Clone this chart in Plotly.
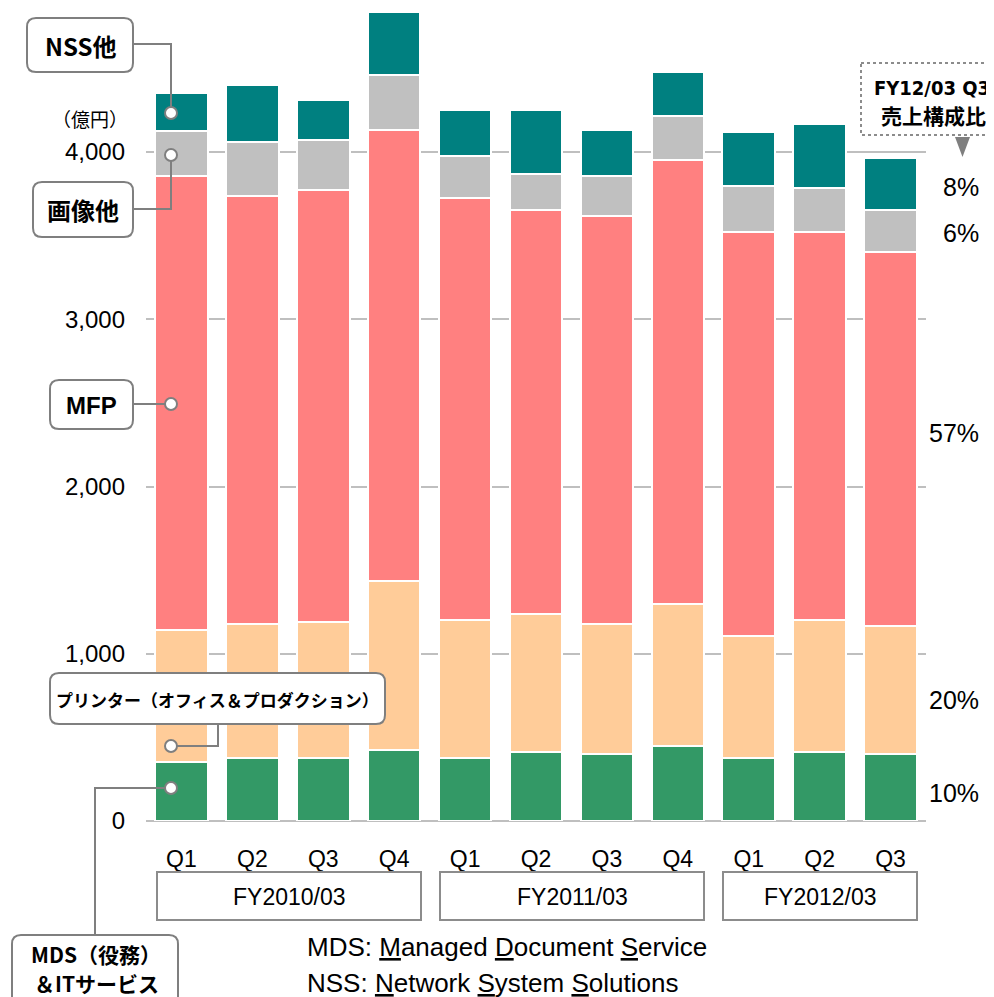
import plotly.graph_objects as go

# quarterly sales by segment (100M yen)
quarters = ["Q1", "Q2", "Q3", "Q4", "Q1", "Q2", "Q3", "Q4", "Q1", "Q2", "Q3"]
fiscal_years = ["FY2010/03", "FY2011/03", "FY2012/03"]
mds = [353, 377, 377, 425, 377, 413, 401, 449, 377, 413, 401]
printer = [790, 801, 813, 1010, 825, 825, 777, 849, 729, 789, 765]
mfp = [2715, 2560, 2584, 2698, 2524, 2416, 2440, 2655, 2417, 2321, 2237]
imaging = [269, 323, 299, 329, 251, 216, 240, 263, 275, 263, 251]
nss = [227, 341, 239, 377, 275, 382, 275, 264, 323, 383, 311]
share_labels = ["10%", "20%", "57%", "6%", "8%"]

# page has an 8px body margin, so positions below are in window pixels
OFF = 8
W, H = 994 - OFF, 997 - OFF
L, R, T, B = 146, 926, 8, 821
FONT = "Liberation Sans, Arial, Noto Sans CJK JP, sans-serif"
JP = "Noto Sans CJK JP, Liberation Sans, sans-serif"


def px(x):
    return (x - L) / (R - L)


def py(y):
    return (B - y) / (B - T)


x = list(range(len(quarters)))
fig = go.Figure()
series = [
    ("MDS", mds, "#339966"),
    ("Printer", printer, "#FFCC99"),
    ("MFP", mfp, "#FF8080"),
    ("Imaging", imaging, "#C0C0C0"),
    ("NSS", nss, "#008080"),
]
for name, vals, col in series:
    fig.add_trace(go.Bar(x=x, y=vals, name=name, width=0.74,
                         marker=dict(color=col, line=dict(color="white", width=2))))

shapes = []
annotations = []


def rounded_box(x0, y0, x1, y1, r=9, dash="solid", width=2, color="#7F7F7F"):
    a, b, c, d = px(x0), py(y0), px(x1), py(y1)
    rx, ry = r / (R - L), r / (B - T)
    path = (f"M{a + rx},{b} L{c - rx},{b} Q{c},{b} {c},{b - ry} "
            f"L{c},{d + ry} Q{c},{d} {c - rx},{d} L{a + rx},{d} "
            f"Q{a},{d} {a},{d + ry} L{a},{b - ry} Q{a},{b} {a + rx},{b} Z")
    shapes.append(dict(type="path", path=path, xref="paper", yref="paper",
                       line=dict(color=color, width=width, dash=dash),
                       fillcolor="white", layer="above"))


def poly(pts, color="#7F7F7F", width=2):
    path = "M" + " L".join(f"{px(a)},{py(b)}" for a, b in pts)
    shapes.append(dict(type="path", path=path, xref="paper", yref="paper",
                       line=dict(color=color, width=width), layer="above"))


def dot(cx, cy, r=6):
    shapes.append(dict(type="circle", xref="paper", yref="paper",
                       x0=px(cx - r), x1=px(cx + r), y0=py(cy + r), y1=py(cy - r),
                       fillcolor="white", line=dict(color="#7F7F7F", width=2),
                       layer="above"))


def text(xp, yp, s, size=21, bold=False, xanchor="center", font=FONT, color="black"):
    annotations.append(dict(x=px(xp), y=py(yp), xref="paper", yref="paper",
                            text=f"<b>{s}</b>" if bold else s, showarrow=False,
                            xanchor=xanchor, yanchor="middle",
                            font=dict(family=font, size=size, color=color)))


# small marks along the left edge
for yy in [152, 261, 370, 479, 588, 696, 804]:
    poly([(0, yy), (3, yy)], color="#A0A0A0", width=1.5)

# callouts
poly([(133, 44), (171, 44), (171, 113)])
rounded_box(27, 18, 133, 72)
text(80, 45, "NSS他", 24, True, font=JP)
dot(171, 113)

poly([(133, 209), (171, 209), (171, 155)])
rounded_box(33, 182, 133, 237)
text(83, 210, "画像他", 24, True, font=JP)
dot(171, 155)

poly([(133, 404), (171, 404)])
rounded_box(50, 380, 133, 429)
text(91, 405, "MFP", 24, True)
dot(171, 404)

poly([(218, 724), (218, 746), (171, 746)])
rounded_box(50, 673, 385, 724)
text(217, 699, "プリンター（オフィス＆プロダクション）", 17, True, font=JP)
dot(171, 746)

poly([(95, 935), (95, 788), (171, 788)])
rounded_box(12, 935, 178, 1010)
text(96, 954, "MDS（役務）", 21, True, font=JP)
text(96, 983, "＆ITサービス", 21, True, font=JP)
dot(171, 788)

# unit label
text(90, 118, "（億円）", 19, font=JP)

# fiscal year boxes
for (x0, x1), fy in zip([(157, 421), (440, 704), (723, 917)], fiscal_years):
    shapes.append(dict(type="rect", xref="paper", yref="paper",
                       x0=px(x0), x1=px(x1), y0=py(920), y1=py(872),
                       line=dict(color="#8C8C8C", width=2)))
    text((x0 + x1) / 2, 897, fy, 23)

# composition note
rounded_box(861, 63, 1004, 135, r=0, dash="dot", width=2, color="#8C8C8C")
text(872, 88, "FY12/03 Q3", 20, True, xanchor="left",
     font="DejaVu Sans Condensed, Liberation Sans Narrow, sans-serif")
text(933, 115, "売上構成比", 21, True, font=JP)
shapes.append(dict(type="path", xref="paper", yref="paper",
                   path=f"M{px(955)},{py(137)} L{px(970)},{py(137)} L{px(962.5)},{py(157)} Z",
                   fillcolor="#7F7F7F", line=dict(width=0), layer="above"))

for s, yy in zip(share_labels, [793, 700, 433, 233, 187]):
    text(981, yy, s, 25, xanchor="right")

# footnotes
text(305, 947, "MDS: <u>M</u>anaged <u>D</u>ocument <u>S</u>ervice", 26, xanchor="left")
text(305, 983, "NSS: <u>N</u>etwork <u>S</u>ystem <u>S</u>olutions", 26, xanchor="left")

fig.update_layout(
    barmode="stack",
    width=W, height=H,
    margin=dict(l=L - OFF, r=994 - R, t=T - OFF, b=997 - B),
    paper_bgcolor="white", plot_bgcolor="white",
    showlegend=False,
    font=dict(family=FONT, size=21, color="black"),
    shapes=shapes, annotations=annotations,
    xaxis=dict(range=[-0.5, 10.5], tickvals=x, ticktext=quarters, showgrid=False,
               showline=False, zeroline=False, ticks="", ticklabelstandoff=22,
               tickfont=dict(size=23), fixedrange=True),
    yaxis=dict(range=[0, (B - T) / 0.16725], tickvals=[0, 1000, 2000, 3000, 4000],
               tickformat=",d", showgrid=True, gridcolor="#BFBFBF", gridwidth=1.5,
               zeroline=True, zerolinecolor="#BFBFBF", zerolinewidth=2,
               showline=False, ticks="", ticklabelstandoff=20,
               tickfont=dict(size=24), fixedrange=True),
)

fig.write_html("out.html")
